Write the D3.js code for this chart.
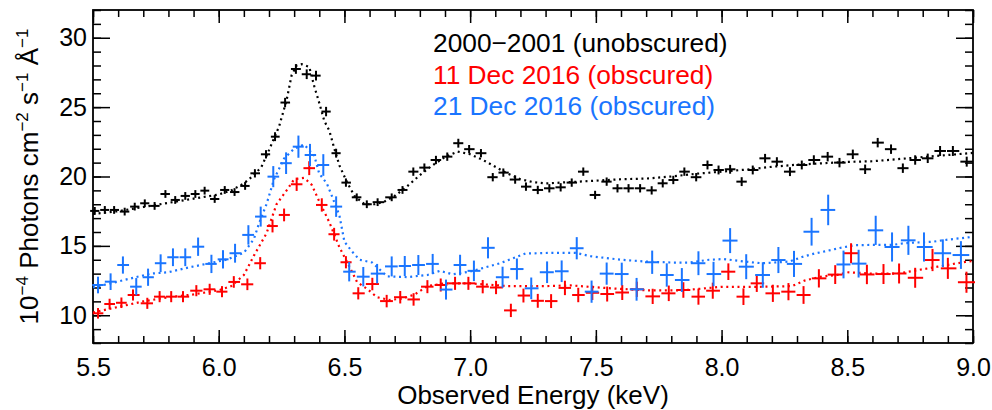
<!DOCTYPE html>
<html>
<head>
<meta charset="utf-8">
<script src="https://d3js.org/d3.v7.min.js"></script>
<style>
  body { margin: 0; background: #fff; }
  text { font-family: "Liberation Sans", Arial, Helvetica, sans-serif; }
</style>
</head>
<body>
<svg id="chart" width="992" height="410"></svg>
<script>
// 2000-2001 (unobscured) data points
var blackE = [5.507, 5.547, 5.584, 5.626, 5.666, 5.706, 5.745, 5.788, 5.827, 5.867, 5.907, 5.944, 5.984, 6.024, 6.063,
    6.105, 6.144, 6.188, 6.224, 6.264, 6.307, 6.350, 6.387, 6.427, 6.467, 6.506, 6.549, 6.589, 6.632, 6.688,
    6.731, 6.774, 6.818, 6.864, 6.909, 6.953, 6.996, 7.043, 7.090, 7.132, 7.179, 7.222, 7.269, 7.315, 7.360,
    7.404, 7.450, 7.497, 7.543, 7.586, 7.630, 7.676, 7.722, 7.766, 7.808, 7.852, 7.899, 7.944, 7.988, 8.034,
    8.080, 8.124, 8.173, 8.220, 8.272, 8.319, 8.367, 8.422, 8.469, 8.522, 8.571, 8.621, 8.674, 8.721, 8.770,
    8.820, 8.869, 8.920, 8.975];
var blackFlux = [17.52, 17.59, 17.59, 17.47, 17.83, 18.07, 17.88, 18.74, 18.31, 18.60, 18.74, 18.98, 18.38, 19.03, 18.88,
    19.32, 20.23, 21.60, 22.87, 25.33, 27.75, 27.37, 27.27, 24.68, 21.68, 19.56, 18.50, 18.00, 18.15, 18.50,
    19.03, 20.35, 20.64, 21.19, 21.43, 22.40, 21.97, 21.68, 19.95, 20.28, 19.78, 19.27, 19.03, 19.15, 19.22,
    19.56, 20.35, 18.67, 19.63, 19.15, 19.15, 19.15, 19.00, 19.51, 19.75, 20.35, 19.95, 20.83, 20.47, 20.52,
    19.63, 20.47, 21.31, 21.07, 20.35, 20.83, 21.19, 21.43, 21.00, 21.60, 20.52, 22.44, 21.97, 20.60, 21.19,
    21.31, 21.84, 21.84, 21.07];
var blackErr = [0.28, 0.28, 0.28, 0.28, 0.28, 0.28, 0.28, 0.28, 0.28, 0.28, 0.28, 0.28, 0.28, 0.28, 0.28,
    0.28, 0.3, 0.3, 0.32, 0.34, 0.35, 0.35, 0.35, 0.34, 0.32, 0.3, 0.28, 0.28, 0.28, 0.28,
    0.28, 0.3, 0.3, 0.3, 0.3, 0.32, 0.3, 0.3, 0.3, 0.3, 0.3, 0.3, 0.3, 0.3, 0.3,
    0.3, 0.3, 0.3, 0.3, 0.3, 0.3, 0.3, 0.3, 0.3, 0.3, 0.3, 0.3, 0.32, 0.32, 0.32,
    0.32, 0.32, 0.32, 0.32, 0.32, 0.32, 0.34, 0.34, 0.34, 0.34, 0.34, 0.34, 0.34, 0.34, 0.34,
    0.34, 0.36, 0.36, 0.36];

// 11 Dec 2016 (obscured)
var redE = [5.520, 5.566, 5.613, 5.659, 5.716, 5.765, 5.811, 5.858, 5.911, 5.964, 6.013, 6.060, 6.114, 6.165, 6.214,
    6.260, 6.310, 6.360, 6.410, 6.459, 6.506, 6.555, 6.611, 6.668, 6.722, 6.775, 6.830, 6.883, 6.940, 6.993,
    7.050, 7.103, 7.162, 7.212, 7.269, 7.322, 7.377, 7.430, 7.486, 7.545, 7.605, 7.663, 7.726, 7.790, 7.848,
    7.908, 7.965, 8.027, 8.087, 8.140, 8.204, 8.266, 8.326, 8.387, 8.452, 8.515, 8.578, 8.644, 8.706, 8.770,
    8.839, 8.900, 8.974];
var redFlux = [10.14, 10.81, 10.90, 11.46, 10.86, 11.34, 11.34, 11.34, 11.77, 11.87, 11.70, 12.40, 12.23, 13.75, 16.43,
    17.23, 19.44, 20.60, 17.95, 15.84, 13.82, 11.58, 12.25, 11.02, 11.30, 11.14, 12.06, 12.18, 12.30, 12.30,
    12.06, 12.00, 10.35, 11.42, 11.04, 11.02, 11.97, 11.46, 11.62, 11.53, 11.64, 11.87, 11.36, 11.58, 11.82,
    11.34, 11.77, 13.14, 11.34, 12.30, 11.58, 11.70, 11.46, 12.66, 12.93, 14.47, 12.94, 12.97, 13.01, 12.70,
    13.98, 13.38, 12.38];
var redErr = [0.38, 0.38, 0.38, 0.4, 0.4, 0.4, 0.4, 0.4, 0.4, 0.4, 0.4, 0.42, 0.42, 0.44, 0.46,
    0.46, 0.48, 0.5, 0.48, 0.46, 0.44, 0.44, 0.45, 0.45, 0.45, 0.45, 0.47, 0.47, 0.47, 0.47,
    0.48, 0.48, 0.48, 0.5, 0.5, 0.5, 0.52, 0.52, 0.52, 0.54, 0.54, 0.55, 0.55, 0.56, 0.56,
    0.58, 0.58, 0.6, 0.6, 0.62, 0.62, 0.62, 0.64, 0.66, 0.68, 0.72, 0.7, 0.72, 0.72, 0.72,
    0.8, 0.76, 0.76];

// 21 Dec 2016 (obscured)
var blueE = [5.520, 5.570, 5.619, 5.672, 5.719, 5.769, 5.818, 5.867, 5.918, 5.971, 6.017, 6.065, 6.118, 6.167, 6.217,
    6.268, 6.317, 6.363, 6.416, 6.467, 6.519, 6.575, 6.630, 6.688, 6.740, 6.794, 6.851, 6.904, 6.960, 7.015,
    7.071, 7.129, 7.186, 7.243, 7.306, 7.364, 7.424, 7.483, 7.543, 7.603, 7.662, 7.724, 7.782, 7.842, 7.908,
    7.968, 8.034, 8.098, 8.164, 8.226, 8.288, 8.358, 8.424, 8.485, 8.545, 8.613, 8.678, 8.743, 8.805, 8.880,
    8.952];
var blueFlux = [12.18, 12.42, 13.62, 12.06, 12.74, 13.75, 14.18, 14.18, 14.94, 13.70, 14.03, 14.47, 15.79, 17.11, 19.99,
    20.96, 22.15, 21.55, 20.83, 17.83, 13.14, 12.78, 13.00, 13.52, 13.55, 13.62, 13.70, 11.85, 13.62, 13.20,
    14.86, 12.74, 13.33, 11.94, 13.10, 13.17, 14.83, 11.70, 13.00, 12.97, 11.87, 13.82, 12.90, 12.54, 13.75,
    12.97, 15.38, 13.50, 12.90, 13.98, 13.70, 16.02, 17.59, 13.66, 13.72, 16.12, 14.92, 15.40, 14.92, 14.47,
    14.34];
var blueErr = [0.6, 0.6, 0.62, 0.62, 0.62, 0.64, 0.64, 0.64, 0.66, 0.66, 0.66, 0.68, 0.7, 0.72, 0.76,
    0.78, 0.8, 0.8, 0.78, 0.74, 0.7, 0.7, 0.7, 0.72, 0.72, 0.72, 0.72, 0.72, 0.74, 0.74,
    0.76, 0.76, 0.76, 0.78, 0.78, 0.78, 0.8, 0.8, 0.8, 0.82, 0.82, 0.84, 0.84, 0.86, 0.86,
    0.88, 0.9, 0.9, 0.92, 0.94, 0.94, 1.0, 1.1, 1.0, 1.0, 1.05, 1.05, 1.05, 1.05, 1.0,
    1.0];

// dotted model curves
var blackModelE = [5.50, 5.60, 5.70, 5.80, 5.90, 6.00, 6.05, 6.10, 6.14, 6.17, 6.20, 6.24, 6.27, 6.29, 6.31, 6.33,
    6.36, 6.38, 6.40, 6.42, 6.44, 6.46, 6.48, 6.51, 6.54, 6.58, 6.62, 6.66, 6.70, 6.75, 6.80, 6.85, 6.90,
    6.95, 7.00, 7.05, 7.10, 7.15, 7.20, 7.25, 7.30, 7.40, 7.50, 7.60, 7.70, 7.80, 7.90, 8.00, 8.10, 8.20,
    8.30, 8.40, 8.50, 8.60, 8.70, 8.80, 8.90, 9.00];
var blackModel = [17.3, 17.5, 17.8, 18.1, 18.4, 18.7, 19.0, 19.5, 20.1, 20.7, 21.9, 23.6, 25.5, 27.3, 28.0, 28.1,
    27.9, 26.5, 25.3, 24.0, 23.3, 22.0, 20.8, 19.6, 18.6, 18.0, 18.0, 18.2, 18.6, 19.3, 20.1, 20.8, 21.4,
    21.8, 21.6, 21.2, 20.7, 20.2, 19.8, 19.6, 19.5, 19.6, 19.7, 19.8, 19.85, 20.0, 20.2, 20.35, 20.5, 20.7,
    20.85, 20.95, 21.05, 21.1, 21.25, 21.4, 21.55, 21.7];

var redModelE = [5.50, 5.60, 5.70, 5.80, 5.90, 6.00, 6.05, 6.10, 6.14, 6.19, 6.23, 6.27, 6.30, 6.34, 6.37, 6.40,
    6.44, 6.48, 6.52, 6.55, 6.59, 6.63, 6.68, 6.73, 6.78, 6.83, 6.90, 7.00, 7.15, 7.30, 7.40, 7.55, 7.70,
    7.85, 8.00, 8.15, 8.28, 8.33, 8.40, 8.46, 8.50, 8.60, 8.70, 8.78, 8.86, 8.97, 9.00];
var redModel = [10.2, 10.6, 11.0, 11.3, 11.5, 11.8, 12.1, 12.9, 14.3, 15.9, 18.0, 19.0, 19.8, 19.9, 19.4, 18.2,
    16.7, 14.9, 13.5, 12.4, 11.9, 11.3, 11.1, 11.2, 11.5, 12.1, 12.3, 12.3, 12.1, 12.1, 12.15, 11.95, 11.8,
    11.8, 12.05, 12.05, 12.1, 12.5, 12.8, 12.9, 13.1, 13.0, 13.0, 13.25, 13.5, 13.85, 13.9];

var blueModelE = [5.50, 5.57, 5.66, 5.73, 5.80, 5.87, 5.95, 6.03, 6.10, 6.14, 6.16, 6.19, 6.22, 6.26, 6.30, 6.34,
    6.38, 6.40, 6.43, 6.45, 6.48, 6.50, 6.53, 6.56, 6.61, 6.67, 6.75, 6.83, 6.88, 6.93, 7.00, 7.05, 7.12,
    7.17, 7.22, 7.33, 7.42, 7.48, 7.60, 7.70, 7.80, 7.87, 7.95, 8.01, 8.09, 8.16, 8.21, 8.27, 8.32, 8.37,
    8.41, 8.47, 8.53, 8.60, 8.68, 8.73, 8.84, 8.90, 9.00];
var blueModel = [12.0, 12.3, 12.7, 13.0, 13.1, 13.4, 13.7, 14.0, 14.5, 15.5, 16.6, 18.0, 19.8, 21.3, 22.0, 22.3,
    21.5, 20.2, 19.5, 18.6, 17.2, 15.3, 14.6, 14.0, 13.8, 12.8, 12.75, 12.9, 13.2, 12.95, 13.15, 13.4, 13.75,
    14.1, 14.45, 14.5, 14.5, 14.25, 14.0, 13.87, 13.8, 13.8, 14.0, 14.05, 13.87, 13.75, 13.8, 13.87, 14.2, 14.45,
    14.6, 14.85, 15.05, 15.07, 15.07, 15.2, 15.3, 15.45, 15.65];

var legendLabels = ["2000\u22122001 (unobscured)", "11 Dec 2016 (obscured)", "21 Dec 2016 (obscured)"];
var xTicks = [5.5, 6.0, 6.5, 7.0, 7.5, 8.0, 8.5, 9.0];
var yTicks = [10, 15, 20, 25, 30];

var colors = ["#000000", "#ff0000", "#1a75ff"];

var svg = d3.select("#chart"),
    width = +svg.attr("width"),
    height = +svg.attr("height");

var margin = { top: 10, right: 19, bottom: 67, left: 93 };
var w = width - margin.left - margin.right,
    h = height - margin.top - margin.bottom;

var g = svg.append("g").attr("transform", "translate(" + margin.left + "," + margin.top + ")");

var x = d3.scaleLinear().domain([5.5, 9.0]).range([0, w]);
var y = d3.scaleLinear().domain([8, 32]).range([h, 0]);

var minorX = d3.range(55, 91).map(function (d) { return d / 10; });
var minorY = d3.range(8, 33);

// ticks on all four sides, pointing inward
function styleAxis(sel) {
    sel.select(".domain").remove();
    sel.selectAll("line").attr("stroke", "#000").attr("stroke-width", 1.5);
    sel.selectAll("text").attr("fill", "#000").style("font-size", "25px").attr("font-family", null);
}

g.append("g").attr("transform", "translate(0," + h + ")")
    .call(d3.axisBottom(x).tickValues(minorX).tickSize(-7).tickFormat(""))
    .call(styleAxis);
g.append("g").attr("transform", "translate(0," + h + ")")
    .call(d3.axisBottom(x).tickValues(xTicks).tickSize(-13).tickPadding(15).tickFormat(d3.format(".1f")))
    .call(styleAxis);
g.append("g")
    .call(d3.axisTop(x).tickValues(minorX).tickSize(-7).tickFormat(""))
    .call(styleAxis);
g.append("g")
    .call(d3.axisTop(x).tickValues(xTicks).tickSize(-13).tickFormat(""))
    .call(styleAxis);

g.append("g")
    .call(d3.axisLeft(y).tickValues(minorY).tickSize(-8).tickFormat(""))
    .call(styleAxis);
g.append("g")
    .call(d3.axisLeft(y).tickValues(yTicks).tickSize(-17).tickPadding(6))
    .call(styleAxis);
g.append("g").attr("transform", "translate(" + w + ",0)")
    .call(d3.axisRight(y).tickValues(minorY).tickSize(-8).tickFormat(""))
    .call(styleAxis);
g.append("g").attr("transform", "translate(" + w + ",0)")
    .call(d3.axisRight(y).tickValues(yTicks).tickSize(-17).tickFormat(""))
    .call(styleAxis);

// frame
g.append("rect")
    .attr("x", 0).attr("y", 0).attr("width", w).attr("height", h)
    .attr("fill", "none").attr("stroke", "#000").attr("stroke-width", 1.8);

// models
var line = d3.line()
    .x(function (d) { return x(d[0]); })
    .y(function (d) { return y(d[1]); });

var models = [[blackModelE, blackModel], [redModelE, redModel], [blueModelE, blueModel]];
models.forEach(function (m, k) {
    g.append("path")
        .datum(d3.zip(m[0], m[1]))
        .attr("d", line)
        .attr("fill", "none")
        .attr("stroke", colors[k])
        .attr("stroke-width", 2.2)
        .attr("stroke-dasharray", "2,3.6");
});

// data crosses, horizontal bar spans half way to the neighbouring bins
var series = [[blackE, blackFlux, blackErr], [redE, redFlux, redErr], [blueE, blueFlux, blueErr]];
series.forEach(function (s, k) {
    var pts = s[0].map(function (e, i) {
        var lo = i > 0 ? (e - s[0][i - 1]) / 2 : (s[0][i + 1] - e) / 2;
        var hi = i < s[0].length - 1 ? (s[0][i + 1] - e) / 2 : lo;
        return { e: e, v: s[1][i], err: s[2][i], lo: lo, hi: hi };
    });
    var cg = g.append("g").attr("stroke", colors[k]).attr("stroke-width", 2);
    cg.selectAll("line.h")
        .data(pts)
        .enter()
        .append("line")
        .attr("class", "h")
        .attr("x1", function (d) { return x(d.e - d.lo * 0.92); })
        .attr("x2", function (d) { return x(d.e + d.hi * 0.92); })
        .attr("y1", function (d) { return y(d.v); })
        .attr("y2", function (d) { return y(d.v); });
    cg.selectAll("line.v")
        .data(pts)
        .enter()
        .append("line")
        .attr("class", "v")
        .attr("x1", function (d) { return x(d.e); })
        .attr("x2", function (d) { return x(d.e); })
        .attr("y1", function (d) { return y(d.v - d.err); })
        .attr("y2", function (d) { return y(d.v + d.err); });
});

// legend
svg.selectAll("legend")
    .data(legendLabels)
    .enter()
    .append("text")
    .attr("x", 433)
    .attr("y", function (d, i) { return 52 + i * 31.6; })
    .attr("fill", function (d, i) { return colors[i]; })
    .style("font-size", "26.3px")
    .text(function (d) { return d; });

// axis titles
svg.append("text")
    .attr("x", margin.left + w / 2)
    .attr("y", 404)
    .attr("text-anchor", "middle")
    .style("font-size", "26px")
    .text("Observed Energy (keV)");

var yt = svg.append("text")
    .attr("transform", "translate(38," + (margin.top + h / 2) + ") rotate(-90)")
    .attr("text-anchor", "middle")
    .style("font-size", "26px");
var parts = [["10", ""], ["\u22124", "sup"], [" Photons cm", ""], ["\u22122", "sup"], [" s", ""], ["\u22121", "sup"], [" \u00c5", ""], ["\u22121", "sup"]];
var up = false;
parts.forEach(function (p) {
    var t = yt.append("tspan").text(p[0]);
    if (p[1] == "sup") {
        t.attr("dy", -10).style("font-size", "17px");
        up = true;
    } else if (up) {
        t.attr("dy", 10);
        up = false;
    }
});
</script>
</body>
</html>
